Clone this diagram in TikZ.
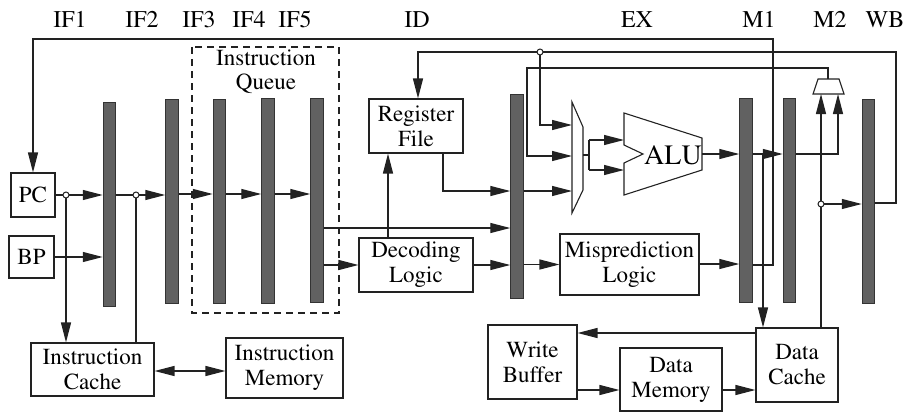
\documentclass[tikz,border=0pt]{standalone}
\IfFileExists{tgtermes.sty}
  {\usepackage[T1]{fontenc}\usepackage{tgtermes}}
  {\usepackage[T1]{fontenc}\usepackage{mathptmx}}
\usetikzlibrary{arrows.meta,calc}
\definecolor{barfill}{HTML}{616161}
\definecolor{barline}{HTML}{333333}
\definecolor{wire}{HTML}{222222}
\tikzset{
  wire/.style={draw=wire,line width=1.2pt},
  arr/.style={wire,-{Triangle[length=20pt,width=10pt]}},
  dblarr/.style={wire,{Triangle[length=20pt,width=10pt]}-{Triangle[length=20pt,width=10pt]}},
  unit/.style={draw=wire,line width=1.1pt,rectangle,inner sep=0pt,align=center,
    font=\rmfamily\fontsize{23}{25}\selectfont},
  latch/.style={draw=barline,fill=barfill,line width=1pt,inner sep=0pt,
    minimum width=12.5pt},
  stagelbl/.style={anchor=base,inner sep=0pt,font=\rmfamily\fontsize{24}{26}\selectfont},
  junction/.style={circle,draw=wire,fill=white,line width=1pt,inner sep=0pt,
    minimum size=6pt},
}
\begin{document}
\begin{tikzpicture}[x=1pt,y=-1pt]
\useasboundingbox (0,0) rectangle (918,412);

% stage names
\node[stagelbl] (sIF1) at (70,28) {IF1};
\node[stagelbl] (sIF2) at (142,28) {IF2};
\node[stagelbl] (sIF3) at (199,28) {IF3};
\node[stagelbl] (sIF4) at (249,28) {IF4};
\node[stagelbl] (sIF5) at (295,28) {IF5};
\node[stagelbl] (sID)  at (417,28) {ID};
\node[stagelbl] (sEX)  at (637,28) {EX};
\node[stagelbl] (sM1)  at (759,28) {M1};
\node[stagelbl] (sM2)  at (830,28) {M2};
\node[stagelbl] (sWB)  at (885,28) {WB};

% instruction queue outline
\draw[draw=wire,line width=1.1pt,dash pattern=on 7pt off 5pt] (192,47) rectangle (339,313);
\node[align=center,inner sep=0pt,font=\rmfamily\fontsize{23}{24}\selectfont] (iqlbl) at (266,72) {Instruction\\Queue};

% pipeline latches
\node[latch,minimum height=204pt] (b1) at (109.5,204) {};
\node[latch,minimum height=204pt] (b2) at (172,201) {};
\node[latch,minimum height=204pt] (b3) at (219.5,201) {};
\node[latch,minimum height=205pt] (b4) at (268,200.5) {};
\node[latch,minimum height=204pt] (b5) at (317,200) {};
\node[latch,minimum height=204pt] (b6) at (517,196) {};
\node[latch,minimum height=204pt] (b7) at (746,200) {};
\node[latch,minimum height=204pt] (b8) at (789.5,200) {};
\node[latch,minimum height=204pt] (b9) at (868.5,201) {};

% functional units
\node[unit,minimum width=44pt,minimum height=44pt] (pc) at (33,195) {PC};
\node[unit,minimum width=45pt,minimum height=42pt] (bp) at (31.5,257) {BP};
\node[unit,minimum width=123pt,minimum height=53pt] (icache) at (92.5,369.5) {Instruction\\Cache};
\node[unit,minimum width=117pt,minimum height=60pt] (imem) at (284.5,368) {Instruction\\Memory};
\node[unit,minimum width=94pt,minimum height=54pt] (rf) at (416,126) {Register\\File};
\node[unit,minimum width=114pt,minimum height=54pt] (dec) at (416,265) {Decoding\\Logic};
\node[unit,minimum width=139pt,minimum height=61pt] (mis) at (629.5,264.5) {Misprediction\\Logic};
\node[unit,minimum width=89pt,minimum height=74pt] (wbuf) at (532.5,362) {Write\\Buffer};
\node[unit,minimum width=102pt,minimum height=63pt] (dmem) at (671,379.5) {Data\\Memory};
\node[unit,minimum width=82pt,minimum height=74pt] (dc) at (797,365) {Data\\Cache};

% operand multiplexer and ALU
\draw[wire,line width=1.1pt] (572,102) -- (583,127) -- (583,190) -- (572,213) -- cycle;
\coordinate (muxA) at (572,125);
\coordinate (muxB) at (572,156);
\coordinate (muxC) at (572,191);
\coordinate (muxO) at (583,155);
\draw[wire,line width=1.1pt] (624,113) -- (702,138) -- (702,170) -- (624,195) -- (624,163)
  -- (643,154) -- (624,145) -- cycle;
\node[inner sep=0pt,font=\rmfamily\fontsize{28}{30}\selectfont] (alu) at (673,155) {ALU};
\coordinate (aluA) at (624,140);
\coordinate (aluB) at (624,170);
\coordinate (aluO) at (702,154);

% write-back selector
\draw[wire,line width=1.1pt] (818,79) -- (839,79) -- (844,94) -- (813,94) -- cycle;
\coordinate (selO) at (828,79);
\coordinate (selL) at (821,94);
\coordinate (selR) at (838,94);

% fetch stages
\coordinate (j1) at (66,195);
\coordinate (j2) at (136,195);
\draw[arr] (pc.east) -- (b1.west |- pc.east);
\draw[arr] (j1) -- (j1 |- icache.north);
\draw[arr] (b1.east |- j2) -- (b2.west |- j2);
\draw[wire] (j2) -- (j2 |- icache.north);
\node[junction] at (j1) {};
\node[junction] at (j2) {};
\draw[arr] (bp.east) -- (b1.west |- bp.east);
\draw[arr] (b2.east |- 0,194) -- (b3.west |- 0,194);
\draw[arr] (b3.east |- 0,194) -- (b4.west |- 0,194);
\draw[arr] (b4.east |- 0,194) -- (b5.west |- 0,194);
\draw[dblarr] (icache.east |- 0,371) -- (imem.west |- 0,371);

% decode stage
\draw[arr] (b5.east |- 0,228) -- (b6.west |- 0,228);
\draw[arr] (b5.east |- dec.west) -- (dec.west);
\draw[arr] (dec.north -| 388,0) -- (rf.south -| 388,0);
\draw[arr] (dec.east) -- (b6.west |- dec.east);
\draw[arr] (rf.south -| 443,0) |- (b6.west |- muxC);
\draw[arr] (b6.east |- muxC) -- (muxC);

% execute stage
\draw[arr] (b6.east |- mis.west) -- (mis.west);
\draw[arr] (mis.east |- 0,264) -- (b7.west |- 0,264);
\draw[wire] (muxO) -- (589,155);
\draw[wire] (589,140) -- (589,170);
\draw[arr] (589,140) -- (aluA);
\draw[arr] (589,170) -- (aluB);
\draw[arr] (aluO) -- (b7.west |- aluO);

% memory stages
\draw[arr] (b7.east |- aluO) -- (b8.west |- aluO);
\draw[arr] (763,154) -- (dc.north -| 763,0);
\draw[arr] (b8.east |- aluO) -| (selR);
\coordinate (j4) at (821,204);
\draw[arr] (dc.north -| selL) -- (selL);
\draw[arr] (j4) -- (b9.west |- j4);
\node[junction] at (j4) {};
\draw[arr] (dc.west |- 0,333) -- (wbuf.east |- 0,333);
\draw[arr] (wbuf.east |- 0,390) -- (dmem.west |- 0,390);
\draw[arr] (dmem.east |- 0,390) -- (dc.west |- 0,390);

% feedback paths
\coordinate (j3) at (540,52);
\draw[arr] (b9.east |- 0,203) -| (896,52) -| (rf.north -| 418,0);
\draw[arr] (j3) |- (muxA);
\node[junction] at (j3) {};
\draw[arr] (selO) |- (527,68) |- (muxB);
\draw[arr] (b7.east |- 0,265) -| (773,39) -| (pc.north);
\end{tikzpicture}
\end{document}
